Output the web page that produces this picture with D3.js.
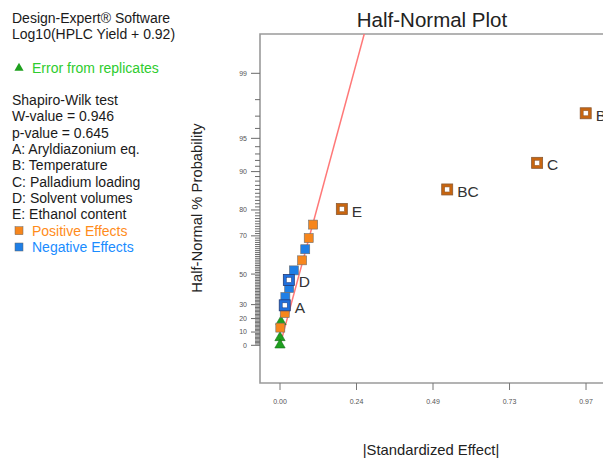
<!DOCTYPE html>
<html>
<head>
<meta charset="utf-8">
<script src="https://cdn.jsdelivr.net/npm/d3@7.9.0/dist/d3.min.js"></script>
<style>
  html, body { margin: 0; padding: 0; background: #fff; }
  svg { display: block; font-family: "Liberation Sans", Arial, sans-serif; }
</style>
</head>
<body>
<div id="chart"></div>
<script>
/* ------------------------------
 Data
------------------------------ */
// |standardized effect| and half-normal % probability of each term
const effects = [0.969, 0.815, 0.530, 0.196, 0.105, 0.091, 0.080, 0.070, 0.044, 0.028, 0.029, 0.017, 0.015, 0.015, 0.003, 0.001, 0.000, 0.000];
const probs   = [97.2, 91.6, 86.0, 80.3, 74.7, 69.0, 63.7, 57.9, 52.2, 46.4, 41.3, 35.2, 29.5, 24.0, 18.4, 13.3, 6.5, 1.0];
const kinds   = ["pos", "pos", "pos", "pos", "pos", "pos", "neg", "pos", "neg", "neg", "neg", "neg", "neg", "pos", "err", "pos", "err", "err"];
const terms   = ["B", "C", "BC", "E", "", "", "", "", "", "D", "", "", "A", "", "", "", "", ""];

// fitted line through the origin: effect -> % probability
const lineEffects = [-0.002, 0.30];
const lineSlope = 11.04; // half-normal quantile per unit effect

const xTicks = [0, 0.2425, 0.485, 0.7275, 0.97];
const xTickLabels = ["0.00", "0.24", "0.49", "0.73", "0.97"];
const yMajor = [0, 10, 20, 30, 50, 70, 80, 90, 95, 99];
const yMinor = d3.range(1, 99).filter((p) => !yMajor.includes(p));

const infoLines = ["Design-Expert® Software", "Log10(HPLC Yield + 0.92)"];
const testLines = [
  "Shapiro-Wilk test",
  "W-value = 0.946",
  "p-value = 0.645",
  "A: Aryldiazonium eq.",
  "B: Temperature",
  "C: Palladium loading",
  "D: Solvent volumes",
  "E: Ethanol content",
];

const colors = { pos: "#f7861c", neg: "#1f7fe6", err: "#1ea01e" };

/* ------------------------------
 Half-normal probability transform
------------------------------ */
// inverse standard normal CDF (Acklam)
function probit(p) {
  const a = [-39.69683028665376, 220.9460984245205, -275.9285104469687, 138.357751867269, -30.66479806614716, 2.506628277459239];
  const b = [-54.47609879822406, 161.5858368580409, -155.6989798598866, 66.80131188771972, -13.28068155288572];
  const c = [-0.007784894002430293, -0.3223964580411365, -2.400758277161838, -2.549732539343734, 4.374664141464968, 2.938163982698783];
  const d = [0.007784695709041462, 0.3224671290700398, 2.445134137142996, 3.754408661907416];
  const pl = 0.02425;
  let q, r;
  if (p < pl) {
    q = Math.sqrt(-2 * Math.log(p));
    return (((((c[0] * q + c[1]) * q + c[2]) * q + c[3]) * q + c[4]) * q + c[5]) / ((((d[0] * q + d[1]) * q + d[2]) * q + d[3]) * q + 1);
  }
  if (p <= 1 - pl) {
    q = p - 0.5;
    r = q * q;
    return (((((a[0] * r + a[1]) * r + a[2]) * r + a[3]) * r + a[4]) * r + a[5]) * q / (((((b[0] * r + b[1]) * r + b[2]) * r + b[3]) * r + b[4]) * r + 1);
  }
  q = Math.sqrt(-2 * Math.log(1 - p));
  return -(((((c[0] * q + c[1]) * q + c[2]) * q + c[3]) * q + c[4]) * q + c[5]) / ((((d[0] * q + d[1]) * q + d[2]) * q + d[3]) * q + 1);
}
const halfNormal = (pct) => (pct <= 0 ? 0 : probit(0.5 + pct / 200));

/* ------------------------------
 Layout
------------------------------ */
const width = 603;
const height = 459;
const plot = { left: 260, top: 34, right: 620, bottom: 383 };

const svg = d3.select("#chart").append("svg")
  .attr("width", width)
  .attr("height", height);

svg.append("rect").attr("width", width).attr("height", height).attr("fill", "#fff");

const xScale = d3.scaleLinear()
  .domain([-0.0634, 1.0777])
  .range([plot.left, plot.right]);

const yScale = d3.scaleLinear()
  .domain([-0.357, 2.948])
  .range([plot.bottom, plot.top]);

const yOf = (pct) => yScale(halfNormal(pct));

/* ------------------------------
 Left info block
------------------------------ */
const info = svg.append("g").attr("font-size", 14).attr("fill", "#1a1a1a");
infoLines.forEach((t, i) => {
  info.append("text").attr("x", 12).attr("y", 23 + i * 16.3).text(t);
});

info.append("path")
  .attr("d", d3.symbol(d3.symbolTriangle, 36)())
  .attr("transform", "translate(19,68)")
  .attr("fill", colors.err);
info.append("text").attr("x", 32).attr("y", 72.5).attr("fill", "#2ecc2e").text("Error from replicates");

testLines.forEach((t, i) => {
  info.append("text").attr("x", 12).attr("y", 105 + i * 16.3).text(t);
});

const legendItems = [
  { label: "Positive Effects", fill: colors.pos, text: "#ff8c1a" },
  { label: "Negative Effects", fill: colors.neg, text: "#1a8cff" },
];
legendItems.forEach((d, i) => {
  const y = 230.7 + i * 16.3;
  info.append("rect")
    .attr("x", 15).attr("y", y - 4).attr("width", 8).attr("height", 8)
    .attr("fill", d.fill).attr("stroke", "#666").attr("stroke-width", 0.5);
  info.append("text").attr("x", 32).attr("y", y + 5).attr("fill", d.text).text(d.label);
});

/* ------------------------------
 Titles
------------------------------ */
svg.append("text")
  .attr("x", 432).attr("y", 27)
  .attr("text-anchor", "middle")
  .attr("font-size", 20.5)
  .attr("fill", "#222")
  .text("Half-Normal Plot");

svg.append("text")
  .attr("transform", "translate(202,208) rotate(-90)")
  .attr("text-anchor", "middle")
  .attr("font-size", 14.8)
  .attr("fill", "#222")
  .text("Half-Normal % Probability");

svg.append("text")
  .attr("x", 431).attr("y", 455)
  .attr("text-anchor", "middle")
  .attr("font-size", 14.8)
  .attr("fill", "#222")
  .text("|Standardized Effect|");

/* ------------------------------
 Frame and axes
------------------------------ */
svg.append("path")
  .attr("d", `M${plot.right},${plot.top}H${plot.left}V${plot.bottom}H${plot.right}`)
  .attr("fill", "none")
  .attr("stroke", "#9a9a9a")
  .attr("stroke-width", 1.6);

const yAxis = svg.append("g").attr("class", "y-axis");
yAxis.selectAll("line.minor")
  .data(yMinor)
  .join("line")
  .attr("class", "minor")
  .attr("x1", plot.left - 5).attr("x2", plot.left)
  .attr("y1", (d) => yOf(d)).attr("y2", (d) => yOf(d))
  .attr("stroke", "#6a6a6a").attr("stroke-width", 1);
yAxis.selectAll("line.major")
  .data(yMajor)
  .join("line")
  .attr("class", "major")
  .attr("x1", plot.left - 9).attr("x2", plot.left)
  .attr("y1", (d) => yOf(d)).attr("y2", (d) => yOf(d))
  .attr("stroke", "#6a6a6a").attr("stroke-width", 1);
yAxis.selectAll("text")
  .data(yMajor)
  .join("text")
  .attr("x", plot.left - 13)
  .attr("y", (d) => yOf(d))
  .attr("dy", "0.35em")
  .attr("text-anchor", "end")
  .attr("font-size", 7)
  .attr("fill", "#555")
  .text((d) => d);

const xAxis = svg.append("g").attr("class", "x-axis");
xAxis.selectAll("line")
  .data(xTicks)
  .join("line")
  .attr("x1", (d) => xScale(d)).attr("x2", (d) => xScale(d))
  .attr("y1", plot.bottom).attr("y2", plot.bottom + 7)
  .attr("stroke", "#777").attr("stroke-width", 1);
xAxis.selectAll("text")
  .data(xTicks)
  .join("text")
  .attr("x", (d) => xScale(d))
  .attr("y", plot.bottom + 19)
  .attr("dy", "0.35em")
  .attr("text-anchor", "middle")
  .attr("font-size", 7)
  .attr("fill", "#555")
  .text((d, i) => xTickLabels[i]);

/* ------------------------------
 Fitted line
------------------------------ */
svg.append("clipPath").attr("id", "plot-clip")
  .append("rect")
  .attr("x", plot.left).attr("y", plot.top)
  .attr("width", plot.right - plot.left).attr("height", plot.bottom - plot.top);

svg.append("line")
  .attr("clip-path", "url(#plot-clip)")
  .attr("x1", xScale(lineEffects[0])).attr("y1", yScale(lineEffects[0] * lineSlope))
  .attr("x2", xScale(lineEffects[1])).attr("y2", yScale(lineEffects[1] * lineSlope))
  .attr("stroke", "#ff7878")
  .attr("stroke-width", 1.5);

/* ------------------------------
 Points
------------------------------ */
const points = effects.map((e, i) => ({ effect: e, prob: probs[i], kind: kinds[i], term: terms[i] }));
const marks = svg.append("g").attr("class", "points");

// error triangles
marks.selectAll("path.err")
  .data(points.filter((d) => d.kind === "err"))
  .join("path")
  .attr("class", "err")
  .attr("d", d3.symbol(d3.symbolTriangle, 46)())
  .attr("transform", (d) => `translate(${xScale(d.effect)},${yOf(d.prob) + 1})`)
  .attr("fill", colors.err)
  .attr("stroke", "#13701a")
  .attr("stroke-width", 0.6);

// plain effect squares
marks.selectAll("rect.plain")
  .data(points.filter((d) => d.kind !== "err" && !d.term))
  .join("rect")
  .attr("class", "plain")
  .attr("x", (d) => xScale(d.effect) - 4.5)
  .attr("y", (d) => yOf(d.prob) - 4.5)
  .attr("width", 9).attr("height", 9)
  .attr("fill", (d) => colors[d.kind])
  .attr("stroke", "#6d6d6d")
  .attr("stroke-width", 0.6);

// selected (labelled) terms: ring squares
const labelled = marks.selectAll("g.term")
  .data(points.filter((d) => d.term))
  .join("g")
  .attr("class", "term")
  .attr("transform", (d) => `translate(${xScale(d.effect)},${yOf(d.prob)})`);

labelled.append("rect")
  .attr("x", -5.5).attr("y", -5.5).attr("width", 11).attr("height", 11)
  .attr("fill", (d) => (d.kind === "pos" ? "#c8650f" : "#1f6fdc"))
  .attr("stroke", (d) => (d.kind === "pos" ? "#8a5a33" : "#243c78"))
  .attr("stroke-width", 0.8);
labelled.append("rect")
  .attr("x", -2.5).attr("y", -2.5).attr("width", 5).attr("height", 5)
  .attr("fill", "#fff")
  .attr("stroke", (d) => (d.kind === "pos" ? "#8a5a33" : "#243c78"))
  .attr("stroke-width", 0.5);
labelled.append("text")
  .attr("x", 10).attr("y", 2)
  .attr("dy", "0.35em")
  .attr("font-size", 15.5)
  .attr("fill", "#333")
  .text((d) => d.term);
</script>
</body>
</html>
